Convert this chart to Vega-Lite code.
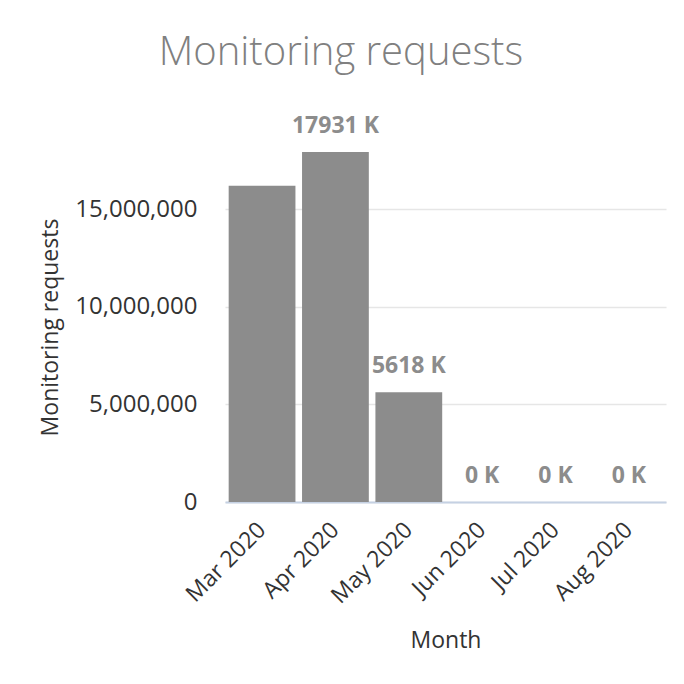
{
  "$schema": "https://vega.github.io/schema/vega-lite/v6.json",
  "autosize": "none",
  "padding": {"left": 225, "top": 152, "right": 18, "bottom": 182},
  "width": 441,
  "height": 350,
  "title": {
    "text": "Monitoring requests",
    "font": "Open Sans",
    "fontSize": 40,
    "fontWeight": 300,
    "color": "#808080",
    "anchor": "middle",
    "frame": "bounds",
    "offset": 42,
    "dx": -12
  },
  "data": {
    "values": [
      {"month": "Mar 2020", "requests": 16200000, "label": "16200 K"},
      {"month": "Apr 2020", "requests": 17931000, "label": "17931 K"},
      {"month": "May 2020", "requests": 5618000, "label": "5618 K"},
      {"month": "Jun 2020", "requests": 0, "label": "0 K"},
      {"month": "Jul 2020", "requests": 0, "label": "0 K"},
      {"month": "Aug 2020", "requests": 0, "label": "0 K"}
    ]
  },
  "encoding": {
    "x": {
      "field": "month",
      "type": "nominal",
      "sort": null,
      "title": "Month",
      "scale": {"paddingInner": 0.09, "paddingOuter": 0.05},
      "axis": {
        "labelAngle": -45,
        "labelAlign": "right",
        "labelBaseline": "middle",
        "labelPadding": 24,
        "ticks": false,
        "domainColor": "#c5d1e3",
        "domainWidth": 2,
        "titlePadding": 22
      }
    },
    "y": {
      "field": "requests",
      "type": "quantitative",
      "title": "Monitoring requests",
      "scale": {"domain": [0, 17931000], "nice": false},
      "axis": {
        "values": [0, 5000000, 10000000, 15000000],
        "format": ",d",
        "ticks": false,
        "domain": false,
        "labelPadding": 28,
        "titlePadding": 12,
        "labelFontSize": 24,
        "gridColor": "#e6e6e6",
        "gridWidth": 1.5
      }
    }
  },
  "layer": [
    {"mark": {"type": "bar", "color": "#8c8c8c"}},
    {
      "transform": [{"filter": "datum.month != 'Mar 2020'"}],
      "mark": {
        "type": "text",
        "font": "Open Sans",
        "fontSize": 23,
        "fontWeight": "bold",
        "color": "#8c8c8c",
        "baseline": "middle",
        "dy": -26
      },
      "encoding": {"text": {"field": "label"}}
    }
  ],
  "config": {
    "view": {"stroke": null},
    "axis": {
      "labelFont": "Open Sans",
      "labelFontSize": 23,
      "labelColor": "#333333",
      "titleFont": "Open Sans",
      "titleFontSize": 23,
      "titleFontWeight": "normal",
      "titleColor": "#333333"
    }
  }
}
